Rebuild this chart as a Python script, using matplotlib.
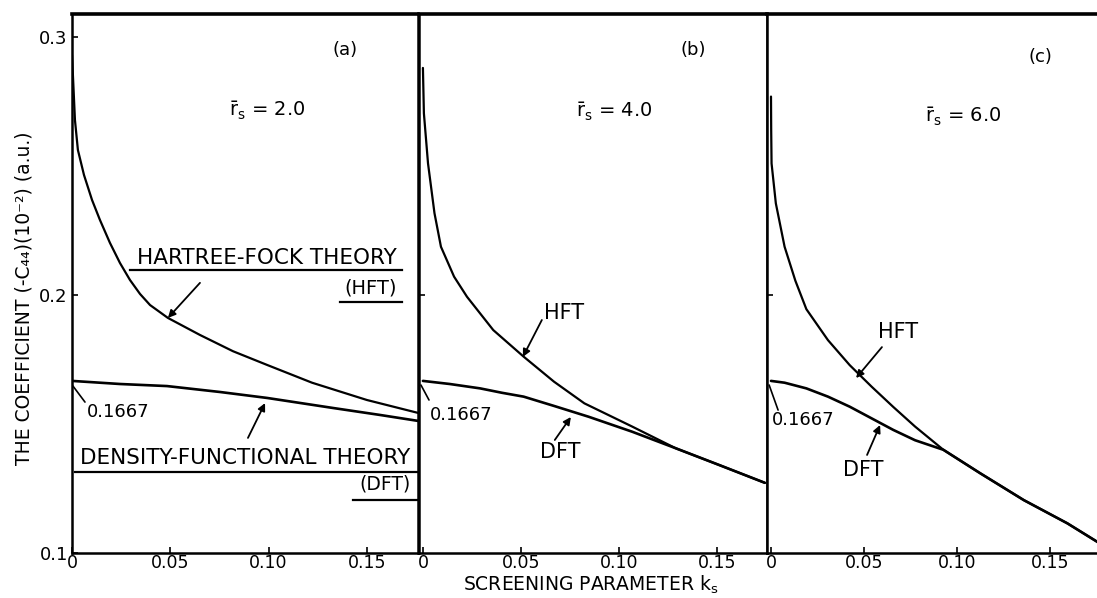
import matplotlib.pyplot as plt

plt.rcParams['font.family'] = ['DejaVu Sans']
plt.rcParams['mathtext.fontset'] = 'dejavusans'

# screening parameter k_s and coefficient (10^-2 a.u.) read for each r_s
hft_a_k = [0, 0.0015, 0.003, 0.0061, 0.0102, 0.0142, 0.0193, 0.0244, 0.0295,
           0.0346, 0.0397, 0.0488, 0.0651, 0.0819, 0.0992, 0.1221, 0.150, 0.176]
hft_a_c = [0.293, 0.2678, 0.2562, 0.2465, 0.2368, 0.2291, 0.2202, 0.2124,
           0.2058, 0.2004, 0.1961, 0.1911, 0.1845, 0.1782, 0.1729, 0.1660,
           0.1593, 0.1543]
dft_a_k = [0, 0.0244, 0.0483, 0.0753, 0.0992, 0.1328, 0.1567, 0.176]
dft_a_c = [0.1667, 0.1655, 0.1647, 0.1624, 0.1601, 0.1562, 0.1535, 0.1512]

hft_b_k = [0, 0.0005, 0.0026, 0.0059, 0.0092, 0.0159, 0.0225, 0.0359, 0.0514,
           0.0669, 0.0824, 0.1068, 0.1290, 0.1512, 0.1745]
hft_b_c = [0.288, 0.2704, 0.2510, 0.2317, 0.2187, 0.2071, 0.1993, 0.1864,
           0.1761, 0.1664, 0.1580, 0.1490, 0.1406, 0.1341, 0.1272]
dft_b_k = [0, 0.0137, 0.0292, 0.0403, 0.0514, 0.0669, 0.0846, 0.1068, 0.1290,
           0.1512, 0.1745]
dft_b_c = [0.1667, 0.1655, 0.1638, 0.1621, 0.1606, 0.1570, 0.1528, 0.1470,
           0.1406, 0.1341, 0.1272]

hft_c_k = [0, 0.0001, 0.0003, 0.0026, 0.0073, 0.0131, 0.0190, 0.0306, 0.0423,
           0.0540, 0.0657, 0.0774, 0.0926, 0.1124, 0.1358, 0.1592, 0.1760]
hft_c_c = [0.2769, 0.2640, 0.2510, 0.2355, 0.2187, 0.2055, 0.1945, 0.1825,
           0.1728, 0.1645, 0.1566, 0.1490, 0.1400, 0.1309, 0.1205, 0.1115,
           0.1040]
dft_c_k = [0, 0.0073, 0.0190, 0.0306, 0.0423, 0.0540, 0.0657, 0.0774, 0.0926,
           0.1124, 0.1358, 0.1592, 0.1760]
dft_c_c = [0.1667, 0.1660, 0.1638, 0.1606, 0.1567, 0.1522, 0.1477, 0.1437,
           0.1400, 0.1309, 0.1205, 0.1115, 0.1040]

rs_values = ['2.0', '4.0', '6.0']
panel_tags = ['(a)', '(b)', '(c)']
x_ticks = [0, 0.05, 0.10, 0.15]
x_tick_labels = ['0', '0.05', '0.10', '0.15']
y_ticks = [0.1, 0.2, 0.3]
y_tick_labels = ['0.1', '0.2', '0.3']

W, H = 1097, 598
fig = plt.figure(figsize=(W / 100, H / 100), dpi=100)


def make_axes(left_px, width_px, xlim):
    ax = fig.add_axes([left_px / W, 45 / H, width_px / W, 539 / H])
    ax.set_xlim(*xlim)
    ax.set_ylim(0.1, 0.3089)
    for side in ['left', 'right', 'bottom']:
        ax.spines[side].set_linewidth(1.8)
    ax.spines['top'].set_linewidth(2.6)
    ax.set_xticks(x_ticks)
    ax.set_xticklabels(x_tick_labels, fontsize=12.5)
    ax.tick_params(axis='both', direction='in', length=4, width=1.2, pad=3)
    ax.tick_params(axis='x', pad=0.5)
    return ax


ax_a = make_axes(72, 346, (0, 0.176))
ax_b = make_axes(419, 348, (-0.002, 0.1756))
ax_c = make_axes(767, 348, (-0.00215, 0.1848))

ax_a.set_yticks(y_ticks)
ax_a.set_yticklabels(y_tick_labels, fontsize=13)
for ax in (ax_b, ax_c):
    ax.set_yticks([0.2])
    ax.set_yticklabels([])

curves = [
    (ax_a, hft_a_k, hft_a_c, dft_a_k, dft_a_c),
    (ax_b, hft_b_k, hft_b_c, dft_b_k, dft_b_c),
    (ax_c, hft_c_k, hft_c_c, dft_c_k, dft_c_c),
]
for ax, hk, hc, dk, dc in curves:
    ax.plot(hk, hc, color='black', lw=1.6, solid_capstyle='round',
            solid_joinstyle='round')
    ax.plot(dk, dc, color='black', lw=1.9, solid_capstyle='round',
            solid_joinstyle='round')

# panel tags and r_s labels
tag_pos = [(0.79, 0.933), (0.787, 0.933), (0.787, 0.920)]
rs_pos = [(0.565, 0.82), (0.562, 0.818), (0.563, 0.809)]
for ax, tag, rs, tp, rp in zip((ax_a, ax_b, ax_c), panel_tags, rs_values,
                               tag_pos, rs_pos):
    ax.text(*tp, tag, transform=ax.transAxes, fontsize=13,
            ha='center', va='center')
    ax.text(*rp, r'$\bar{\mathrm{r}}_\mathrm{s}$ = ' + rs,
            transform=ax.transAxes, fontsize=14, ha='center', va='center')

arrow = dict(arrowstyle='-|>', color='black', lw=1.3, mutation_scale=11,
             shrinkA=0, shrinkB=0)
leader = dict(arrowstyle='-', color='black', lw=1.2, shrinkA=0, shrinkB=0)

# panel (a): theory names with underlines
ax_a.text(0.0992, 0.2143, 'HARTREE-FOCK THEORY', fontsize=15.5,
          ha='center', va='center')
ax_a.plot([0.0295, 0.1679], [0.2097, 0.2097], color='black', lw=1.6)
ax_a.text(0.152, 0.2027, '(HFT)', fontsize=14, ha='center', va='center')
ax_a.plot([0.1363, 0.1679], [0.1973, 0.1973], color='black', lw=1.6)
ax_a.text(0.0883, 0.1368, 'DENSITY-FUNCTIONAL THEORY', fontsize=15.5,
          ha='center', va='center')
ax_a.plot([0.0015, 0.176], [0.1314, 0.1314], color='black', lw=1.6,
          clip_on=False)
ax_a.text(0.1592, 0.1266, '(DFT)', fontsize=13.5, ha='center', va='center')
ax_a.plot([0.1429, 0.1755], [0.1205, 0.1205], color='black', lw=1.6)
ax_a.annotate('', xy=(0.0488, 0.1911), xytext=(0.0651, 0.2047),
              arrowprops=arrow)
ax_a.annotate('', xy=(0.0982, 0.1581), xytext=(0.0895, 0.1446),
              arrowprops=arrow)
ax_a.annotate('', xy=(0.0005, 0.1647), xytext=(0.0066, 0.1585),
              arrowprops=leader)
ax_a.text(0.0076, 0.1547, '0.1667', fontsize=13, ha='left', va='center')

# panel (b)
ax_b.text(0.0719, 0.1930, 'HFT', fontsize=15, ha='center', va='center')
ax_b.annotate('', xy=(0.051, 0.176), xytext=(0.0607, 0.1903),
              arrowprops=arrow)
ax_b.text(0.0699, 0.1391, 'DFT', fontsize=15, ha='center', va='center')
ax_b.annotate('', xy=(0.0755, 0.1527), xytext=(0.0673, 0.1438),
              arrowprops=arrow)
ax_b.annotate('', xy=(-0.001, 0.1651), xytext=(0.0031, 0.1593),
              arrowprops=leader)
ax_b.text(0.0035, 0.1535, '0.1667', fontsize=13, ha='left', va='center')

# panel (c)
ax_c.text(0.0682, 0.1857, 'HFT', fontsize=15, ha='center', va='center')
ax_c.annotate('', xy=(0.0457, 0.1678), xytext=(0.0596, 0.1798),
              arrowprops=arrow)
ax_c.text(0.0494, 0.1322, 'DFT', fontsize=15, ha='center', va='center')
ax_c.annotate('', xy=(0.0586, 0.1496), xytext=(0.0516, 0.138),
              arrowprops=arrow)
ax_c.annotate('', xy=(-0.001, 0.1651), xytext=(0.0038, 0.1554),
              arrowprops=leader)
ax_c.text(0.0005, 0.1516, '0.1667', fontsize=13, ha='left', va='center')

fig.text(591 / W, 1 - 585 / H, r'SCREENING PARAMETER $\mathregular{k_s}$',
         fontsize=13.5, ha='center', va='center')
fig.text(24 / W, 1 - 298 / H, 'THE COEFFICIENT (-C₄₄)(10⁻²) (a.u.)',
         fontsize=13.5, rotation=90, ha='center', va='center')

plt.savefig('out.png', dpi=100)
